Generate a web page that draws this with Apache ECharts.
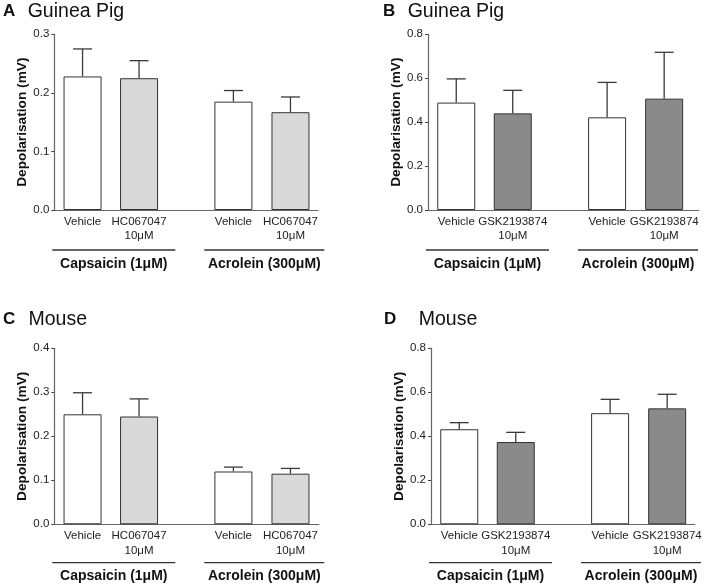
<!DOCTYPE html>
<html>
<head>
<meta charset="utf-8">
<script src="https://cdn.jsdelivr.net/npm/echarts@6/dist/echarts.min.js"></script>
<style>
html,body{margin:0;padding:0;background:#fff;}
#chart{width:714px;height:585px;}
</style>
</head>
<body>
<div id="chart"></div>
<script>
// ---------- data ----------
const panelLetters = ['A', 'B', 'C', 'D'];
const panelTitles = ['Guinea Pig', 'Guinea Pig', 'Mouse', 'Mouse'];
const treatmentsHC = ['Vehicle', 'HC067047\n10\u03bcM', 'Vehicle', 'HC067047\n10\u03bcM'];
const treatmentsGSK = ['Vehicle', 'GSK2193874\n10\u03bcM', 'Vehicle', 'GSK2193874\n10\u03bcM'];
const groupLabels = ['Capsaicin (1\u03bcM)', 'Acrolein (300\u03bcM)'];
const yAxisName = 'Depolarisation (mV)';

const meanA = [0.228, 0.225, 0.185, 0.167];
const semA  = [0.047, 0.030, 0.019, 0.026];
const meanB = [0.489, 0.440, 0.422, 0.507];
const semB  = [0.108, 0.105, 0.159, 0.211];
const meanC = [0.250, 0.245, 0.120, 0.115];
const semC  = [0.049, 0.040, 0.010, 0.012];
const meanD = [0.432, 0.374, 0.505, 0.527];
const semD  = [0.030, 0.044, 0.063, 0.064];

const yMaxes = [0.3, 0.8, 0.4, 0.8];
const yIntervals = [0.1, 0.2, 0.1, 0.2];

// ---------- layout / style ----------
const UNIT = 56.5;                 // px per x-unit
const barPos = [0.5, 1.5, 3.17, 4.18];
const grids = [
  {left: 54.3, top: 34.3, width: 263.7, height: 175.7},
  {left: 428,  top: 34.3, width: 270.7, height: 175.7},
  {left: 54.3, top: 348.3, width: 264.7, height: 176},
  {left: 431,  top: 348.3, width: 263.7, height: 176}
];
const groupLineOff = [40, 40, 38.4, 38.4];
const groupLabelOff = [54.5, 54.5, 52, 52];
const titleY = [13, 13, 321, 321];
const letterX = [3, 383, 3, 384];
const titleX = [27.7, 407.7, 28.5, 418.7];
const lightFill = '#d9d9d9';
const darkFill = '#8a8a8a';
const fills = [
  ['#ffffff', lightFill, '#ffffff', lightFill],
  ['#ffffff', darkFill, '#ffffff', darkFill],
  ['#ffffff', lightFill, '#ffffff', lightFill],
  ['#ffffff', darkFill, '#ffffff', darkFill]
];
const means = [meanA, meanB, meanC, meanD];
const sems = [semA, semB, semC, semD];
const treatments = [treatmentsHC, treatmentsGSK, treatmentsHC, treatmentsGSK];
const FONT = 'Arial, "Liberation Sans", Helvetica, sans-serif';

const chart = echarts.init(document.getElementById('chart'), null, {renderer: 'canvas'});

const option = {
  backgroundColor: '#ffffff',
  animation: false,
  grid: grids.map(g => Object.assign({containLabel: false}, g)),
  xAxis: grids.map((g, i) => ({
    type: 'value', gridIndex: i, min: 0, max: g.width / UNIT,
    axisLine: {show: true, onZero: false, lineStyle: {color: '#666', width: 1.2}},
    axisTick: {show: false}, axisLabel: {show: false}, splitLine: {show: false}
  })),
  yAxis: grids.map((g, i) => ({
    type: 'value', gridIndex: i, min: 0, max: yMaxes[i], interval: yIntervals[i],
    name: yAxisName, nameLocation: 'middle', nameRotate: 90, nameGap: 23,
    nameTextStyle: {fontFamily: FONT, fontWeight: 'bold', fontSize: 13.7, color: '#111'},
    axisLine: {show: true, lineStyle: {color: '#666', width: 1.2}},
    axisTick: {show: true, length: 3, lineStyle: {color: '#444'}},
    axisLabel: {fontFamily: FONT, fontSize: 11.5, color: '#222', margin: 5,
      formatter: v => v.toFixed(1)},
    splitLine: {show: false}
  })),
  series: [],
  graphic: []
};

means.forEach((m, i) => {
  option.series.push({
    type: 'bar', xAxisIndex: i, yAxisIndex: i, barWidth: 38,
    data: m.map((v, j) => ({
      value: [barPos[j], v],
      name: treatments[i][j],
      itemStyle: {color: fills[i][j], borderColor: '#333', borderWidth: 1}
    })),
    label: {
      show: true, position: 'bottom', distance: 4.5,
      formatter: p => p.name,
      fontFamily: FONT, fontSize: 11.5, lineHeight: 14.5, color: '#222', align: 'center'
    },
    z: 2
  });
  option.series.push({
    type: 'custom', xAxisIndex: i, yAxisIndex: i, z: 3,
    data: m.map((v, j) => [barPos[j], v, sems[i][j]]),
    renderItem: (params, api) => {
      const x = api.value(0), y = api.value(1), e = api.value(2);
      const p0 = api.coord([x, y]);
      const p1 = api.coord([x, y + e]);
      const style = {stroke: '#3a3a3a', lineWidth: 1.3};
      return {
        type: 'group',
        children: [
          {type: 'line', shape: {x1: p0[0], y1: p0[1], x2: p1[0], y2: p1[1]}, style},
          {type: 'line', shape: {x1: p1[0] - 9.5, y1: p1[1], x2: p1[0] + 9.5, y2: p1[1]}, style}
        ]
      };
    }
  });
});

// titles
panelLetters.forEach((L, i) => {
  option.graphic.push({
    type: 'text', left: letterX[i], top: titleY[i] - 10,
    style: {text: L, font: 'bold 17px ' + FONT, fill: '#111'}
  });
  option.graphic.push({
    type: 'text', left: titleX[i], top: titleY[i] - 11,
    style: {text: panelTitles[i], font: '19.5px ' + FONT, fill: '#111'}
  });
});

// group lines and labels (relative to each grid)
const groupSpans = [[-2, 121], [150, 270]];
grids.forEach((g, i) => {
  const base = g.top + g.height;
  groupSpans.forEach((s, k) => {
    const x1 = g.left + s[0], x2 = g.left + s[1];
    option.graphic.push({
      type: 'line', shape: {x1: x1, y1: base + groupLineOff[i], x2: x2, y2: base + groupLineOff[i]},
      style: {stroke: '#333', lineWidth: 1.3}
    });
    option.graphic.push({
      type: 'text', x: (x1 + x2) / 2, y: base + groupLabelOff[i],
      style: {text: groupLabels[k], font: 'bold 14px ' + FONT, fill: '#111',
        textAlign: 'center', textVerticalAlign: 'middle'}
    });
  });
});

chart.setOption(option);
</script>
</body>
</html>
